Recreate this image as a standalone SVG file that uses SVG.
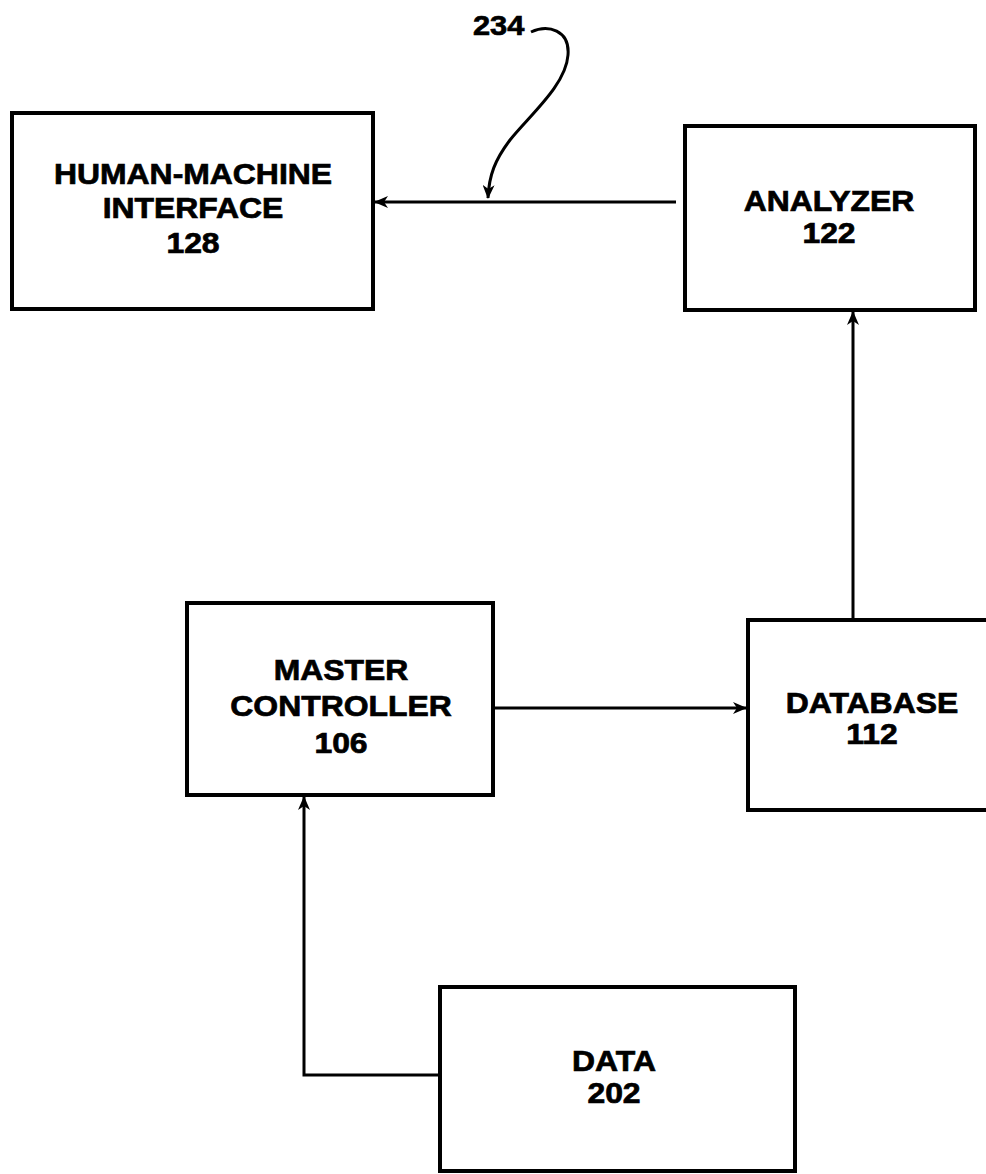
<svg xmlns="http://www.w3.org/2000/svg" width="986" height="1174" viewBox="0 0 986 1174">
<style>
.box{fill:#fff;stroke:#000;stroke-width:4}
.lbl{font-family:"Liberation Sans",Arial,sans-serif;font-weight:bold;font-size:29px;fill:#000;stroke:#000;stroke-width:0.7;text-anchor:middle}
.ref{font-family:"Liberation Sans",Arial,sans-serif;font-weight:bold;font-size:28px;fill:#000;stroke:#000;stroke-width:0.7}
.conn{fill:none;stroke:#000;stroke-width:3}
</style>
<defs>
<marker id="arr" markerUnits="userSpaceOnUse" markerWidth="14" markerHeight="12" refX="13" refY="6" orient="auto">
<path d="M0,0 L14,6 L0,12 L4,6 z" fill="#000"/>
</marker>
</defs>
<rect width="986" height="1174" fill="#fff"/>
<g id="hmi">
<rect class="box" x="12" y="113" width="361" height="196"/>
<g transform="translate(193,0) scale(1.1,1)">
<text class="lbl" x="0" y="184">HUMAN-MACHINE</text>
<text class="lbl" x="0" y="218">INTERFACE</text>
<text class="lbl" x="0" y="253">128</text>
</g>
</g>
<g id="analyzer">
<rect class="box" x="685" y="126" width="290" height="184"/>
<g transform="translate(829,0) scale(1.1,1)">
<text class="lbl" x="0" y="211">ANALYZER</text>
<text class="lbl" x="0" y="243">122</text>
</g>
</g>
<g id="master-controller">
<rect class="box" x="187" y="603" width="306" height="192"/>
<g transform="translate(341,0) scale(1.1,1)">
<text class="lbl" x="0" y="680">MASTER</text>
<text class="lbl" x="0" y="716">CONTROLLER</text>
<text class="lbl" x="0" y="753">106</text>
</g>
</g>
<g id="database">
<rect class="box" x="748" y="620" width="260" height="190"/>
<g transform="translate(872,0) scale(1.1,1)">
<text class="lbl" x="0" y="713">DATABASE</text>
<text class="lbl" x="0" y="744">112</text>
</g>
</g>
<g id="data">
<rect class="box" x="440" y="987" width="355" height="184"/>
<g transform="translate(614,0) scale(1.1,1)">
<text class="lbl" x="0" y="1071">DATA</text>
<text class="lbl" x="0" y="1103">202</text>
</g>
</g>
<g id="label-234">
<text class="ref" transform="translate(473,35) scale(1.1,1)" x="0" y="0">234</text>
</g>
<g id="connectors">
<path class="conn" d="M676,202 L375,202" marker-end="url(#arr)"/>
<path class="conn" d="M853,620 L853,312" marker-end="url(#arr)"/>
<path class="conn" d="M493,708 L746,708" marker-end="url(#arr)"/>
<path class="conn" d="M440,1075 L304,1075 L304,797" marker-end="url(#arr)"/>
<path class="conn" d="M531,32 C548,24 570,30 568,55 C566,85 530,115 510,140 C495,160 489,175 488,198" marker-end="url(#arr)"/>
</g>
</svg>
